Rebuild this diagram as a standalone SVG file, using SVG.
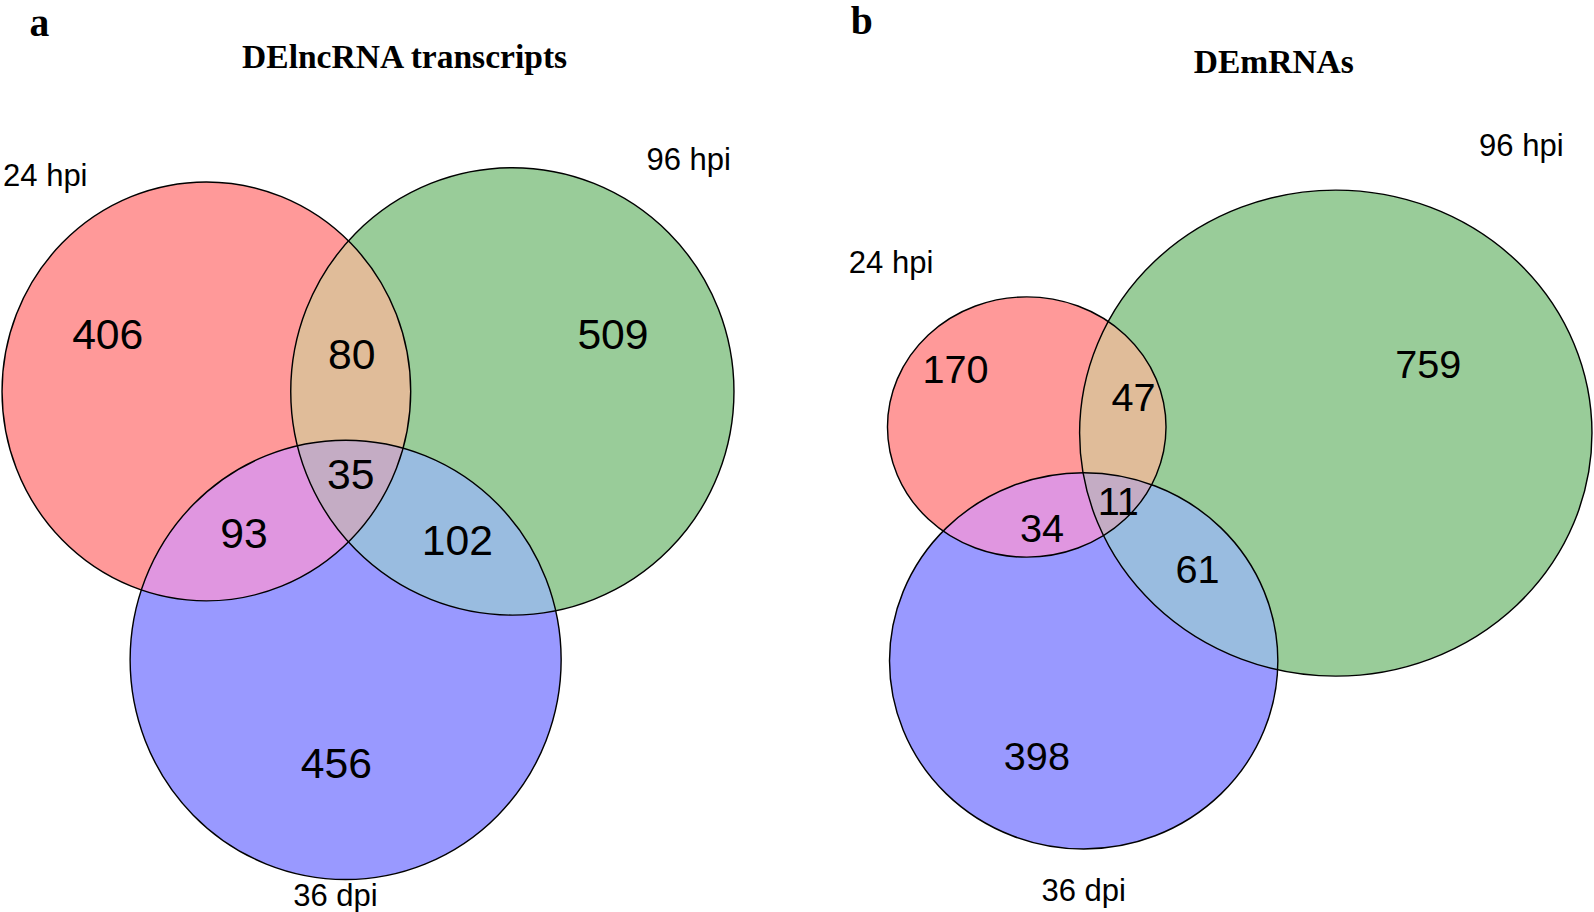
<svg xmlns="http://www.w3.org/2000/svg" width="1594" height="912" viewBox="0 0 1594 912">
<style>
.bg{fill:#ffffff}
.red{fill:#FF9999}
.green{fill:#99CC99}
.blue{fill:#9999FF}
.rg{fill:#E0BC99}
.rb{fill:#E096E0}
.gb{fill:#99BCE0}
.rgb{fill:#C4ACC4}
.outline{fill:none;stroke:#000;stroke-width:1.4}
.num{font-family:"Liberation Sans",Arial,sans-serif;font-size:42px;fill:#000;text-anchor:middle}
.numb{font-family:"Liberation Sans",Arial,sans-serif;font-size:39px;fill:#000;text-anchor:middle}
.lab{font-family:"Liberation Sans",Arial,sans-serif;font-size:30.5px;fill:#000}
.title{font-family:"Liberation Serif","Times New Roman",serif;font-weight:bold;font-size:33px;fill:#000;text-anchor:middle}
.panel{font-family:"Liberation Serif","Times New Roman",serif;font-weight:bold;font-size:39px;fill:#000}
</style>
<defs>
<clipPath id="cA_r"><ellipse cx="203" cy="385" rx="201" ry="206"/></clipPath>
<clipPath id="cA_g"><ellipse cx="504" cy="385" rx="218" ry="220"/></clipPath>
<clipPath id="cB_r"><ellipse cx="1010" cy="420" rx="137" ry="128"/></clipPath>
<clipPath id="cB_g"><ellipse cx="1314" cy="426" rx="252" ry="239"/></clipPath>
</defs>
<rect class="bg" x="0" y="0" width="1594" height="912"/>
<g transform="scale(1.01658,1.01672)">
<g id="panel-a">
<text class="panel" x="29" y="35">a</text>
<text class="title" x="398" y="67">DElncRNA transcripts</text>
<g id="a-24hpi">
<ellipse class="red" cx="203" cy="385" rx="201" ry="206"/>
<text class="lab" x="3" y="183">24 hpi</text>
</g>
<g id="a-96hpi">
<ellipse class="green" cx="504" cy="385" rx="218" ry="220"/>
<text class="lab" x="636" y="167">96 hpi</text>
</g>
<g id="a-36dpi">
<ellipse class="blue" cx="340" cy="649" rx="212" ry="216"/>
<text class="lab" x="330" y="891" text-anchor="middle">36 dpi</text>
</g>
<g id="a-overlaps">
<ellipse class="rg" cx="504" cy="385" rx="218" ry="220" clip-path="url(#cA_r)"/>
<ellipse class="rb" cx="340" cy="649" rx="212" ry="216" clip-path="url(#cA_r)"/>
<ellipse class="gb" cx="340" cy="649" rx="212" ry="216" clip-path="url(#cA_g)"/>
<g clip-path="url(#cA_r)"><ellipse class="rgb" cx="340" cy="649" rx="212" ry="216" clip-path="url(#cA_g)"/></g>
</g>
<g id="a-outlines">
<ellipse class="outline" cx="203" cy="385" rx="201" ry="206"/>
<ellipse class="outline" cx="504" cy="385" rx="218" ry="220"/>
<ellipse class="outline" cx="340" cy="649" rx="212" ry="216"/>
</g>
<g id="a-counts">
<text class="num" x="106" y="343">406</text>
<text class="num" x="346" y="363">80</text>
<text class="num" x="603" y="343">509</text>
<text class="num" x="345" y="481">35</text>
<text class="num" x="240" y="539">93</text>
<text class="num" x="450" y="546">102</text>
<text class="num" x="331" y="765">456</text>
</g>
</g>
<g id="panel-b">
<text class="panel" x="837" y="33">b</text>
<text class="title" x="1253" y="72">DEmRNAs</text>
<g id="b-24hpi">
<ellipse class="red" cx="1010" cy="420" rx="137" ry="128"/>
<text class="lab" x="835" y="269">24 hpi</text>
</g>
<g id="b-96hpi">
<ellipse class="green" cx="1314" cy="426" rx="252" ry="239"/>
<text class="lab" x="1455" y="153">96 hpi</text>
</g>
<g id="b-36dpi">
<ellipse class="blue" cx="1066" cy="650" rx="191" ry="185"/>
<text class="lab" x="1066" y="886" text-anchor="middle">36 dpi</text>
</g>
<g id="b-overlaps">
<ellipse class="rg" cx="1314" cy="426" rx="252" ry="239" clip-path="url(#cB_r)"/>
<ellipse class="rb" cx="1066" cy="650" rx="191" ry="185" clip-path="url(#cB_r)"/>
<ellipse class="gb" cx="1066" cy="650" rx="191" ry="185" clip-path="url(#cB_g)"/>
<g clip-path="url(#cB_r)"><ellipse class="rgb" cx="1066" cy="650" rx="191" ry="185" clip-path="url(#cB_g)"/></g>
</g>
<g id="b-outlines">
<ellipse class="outline" cx="1010" cy="420" rx="137" ry="128"/>
<ellipse class="outline" cx="1314" cy="426" rx="252" ry="239"/>
<ellipse class="outline" cx="1066" cy="650" rx="191" ry="185"/>
</g>
<g id="b-counts">
<text class="numb" x="940" y="377">170</text>
<text class="numb" x="1115" y="404">47</text>
<text class="numb" x="1405" y="372">759</text>
<text class="numb" x="1100" y="507">11</text>
<text class="numb" x="1025" y="533">34</text>
<text class="numb" x="1178" y="573">61</text>
<text class="numb" x="1020" y="757">398</text>
</g>
</g>
</g>
</svg>
